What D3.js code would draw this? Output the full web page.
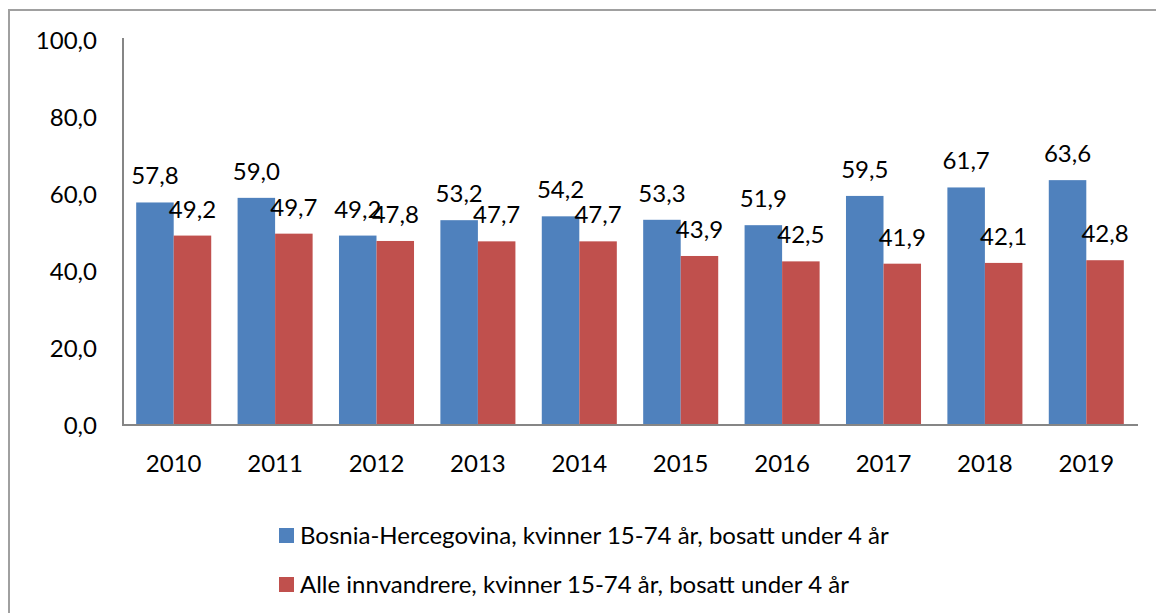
<!DOCTYPE html>
<html>
<head>
<meta charset="utf-8">
<script src="https://cdn.jsdelivr.net/npm/d3@7"></script>
<style>
  body { margin: 0; background: #fff; }
  text { font-family: Lato, "Open Sans", sans-serif; fill: #000; }
</style>
</head>
<body>
<div id="chart"></div>
<script>
// data
var years = ["2010", "2011", "2012", "2013", "2014", "2015", "2016", "2017", "2018", "2019"];
var bosnia = [57.8, 59.0, 49.2, 53.2, 54.2, 53.3, 51.9, 59.5, 61.7, 63.6];
var alle = [49.2, 49.7, 47.8, 47.7, 47.7, 43.9, 42.5, 41.9, 42.1, 42.8];
var yTicks = [0, 20, 40, 60, 80, 100];
var seriesNames = ["Bosnia-Hercegovina, kvinner 15-74 år, bosatt under 4 år",
                   "Alle innvandrere, kvinner 15-74 år, bosatt under 4 år"];
var colors = ["#4F81BD", "#C0504D"];

var W = 1156, H = 613;
var margin = {top: 40, right: 19, bottom: 188, left: 123},
    width = W - margin.left - margin.right,
    height = H - margin.top - margin.bottom;

var svg = d3.select("#chart").append("svg")
    .attr("width", W)
    .attr("height", H);

// outer chart frame (runs off the right and bottom edges)
svg.append("rect")
    .attr("x", 9).attr("y", 10)
    .attr("width", W + 20).attr("height", H + 20)
    .attr("fill", "none")
    .attr("stroke", "#A0A0A0")
    .attr("stroke-width", 2);

var g = svg.append("g")
    .attr("transform", "translate(" + margin.left + "," + margin.top + ")");

var x0 = d3.scaleBand().domain(years).range([0, width])
    .paddingInner(0.26).paddingOuter(0.13);
var x1 = d3.scaleBand().domain([0, 1]).range([0, x0.bandwidth()]);
var y = d3.scaleLinear().domain([0, 100]).range([height, 0]);

var rows = years.map(function(yr, i) { return {year: yr, vals: [bosnia[i], alle[i]]}; });

var groups = g.selectAll(".grp")
  .data(rows)
  .enter().append("g")
    .attr("class", "grp")
    .attr("transform", function(d) { return "translate(" + x0(d.year) + ",0)"; });

groups.selectAll("rect")
  .data(function(d) { return d.vals.map(function(v, k) { return {k: k, v: v}; }); })
  .enter().append("rect")
    .attr("x", function(d) { return x1(d.k); })
    .attr("y", function(d) { return y(d.v); })
    .attr("width", x1.bandwidth())
    .attr("height", function(d) { return height - y(d.v); })
    .attr("fill", function(d) { return colors[d.k]; });

// value labels
groups.selectAll("text.val")
  .data(function(d) { return d.vals.map(function(v, k) { return {k: k, v: v}; }); })
  .enter().append("text")
    .attr("class", "val")
    .attr("x", function(d) { return x1(d.k) + x1.bandwidth() / 2; })
    .attr("y", function(d) { return y(d.v) - 18; })
    .attr("text-anchor", "middle")
    .style("font-size", "24px")
    .text(function(d) { return d.v.toFixed(1).replace(".", ","); });

// Y axis
var yAxis = g.append("g")
    .call(d3.axisLeft(y).tickValues(yTicks).tickSize(0).tickPadding(26)
      .tickFormat(function(d) { return d.toFixed(1).replace(".", ","); }));
yAxis.select(".domain").attr("stroke", "#868686").attr("stroke-width", 2)
    .attr("d", "M0," + (height) + "V-2");
yAxis.selectAll("text").style("font-size", "24px").attr("dy", "0.35em");

// X axis
var xAxis = g.append("g")
    .attr("transform", "translate(0," + height + ")")
    .call(d3.axisBottom(x0).tickSize(0).tickPadding(30));
xAxis.select(".domain").attr("stroke", "#868686").attr("stroke-width", 2)
    .attr("d", "M-1,0H" + (width + 1));
xAxis.selectAll("text").style("font-size", "24px");

// legend
var legend = svg.append("g").attr("transform", "translate(279,528)");
seriesNames.forEach(function(name, i) {
  var row = legend.append("g").attr("transform", "translate(0," + (i * 49) + ")");
  row.append("rect").attr("width", 15).attr("height", 15).attr("fill", colors[i]);
  row.append("text")
    .attr("x", 21).attr("y", 8)
    .attr("dy", "0.35em")
    .style("font-size", "24px")
    .text(name);
});
</script>
</body>
</html>
